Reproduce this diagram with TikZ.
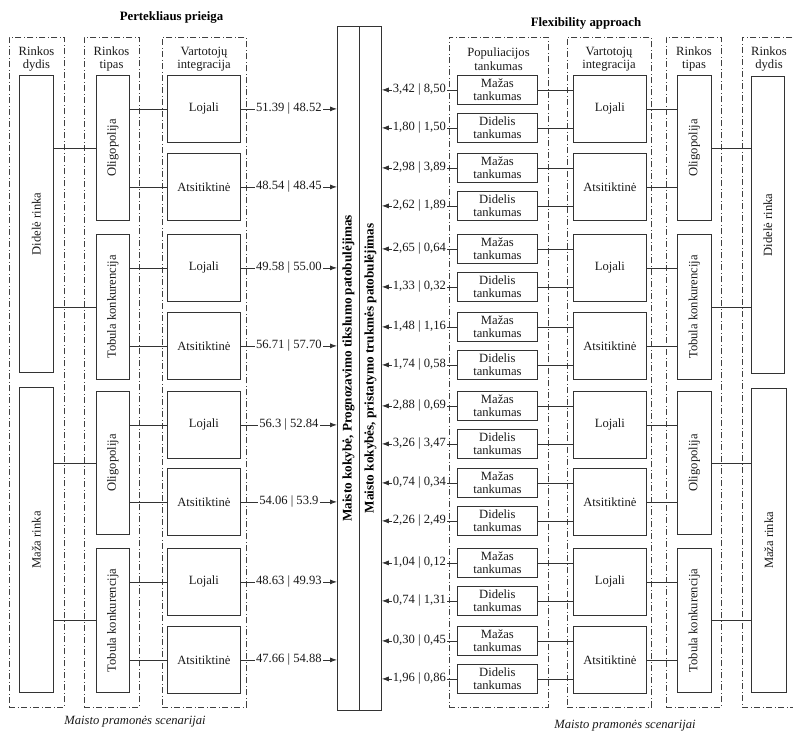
\documentclass[tikz,border=0pt]{standalone}
\usepackage{fontspec}
\setmainfont{Liberation Serif}
\usetikzlibrary{arrows.meta}
% left consumer-integration box: name, top, text, market-type node, value
\newcommand{\myintL}[5]{%
  \node[box, minimum width=73pt, minimum height=67pt] (#1) at (167,#2) {#3};
  \draw[lnk] (#1.west) -- (#1.west -| #4.east);
  \draw[arr] (#1.east) -- node[val]{#5} (#1.east -| colL.west);
}
% right consumer-integration box: name, top, text, market-type node
\newcommand{\myintR}[4]{%
  \node[box, minimum width=73pt, minimum height=67pt] (#1) at (573,#2) {#3};
  \draw[lnk] (#1.east) -- (#1.east -| #4.west);
}
% population density box: name, top, text, integration node, value
\newcommand{\mypop}[5]{%
  \node[box, minimum width=80pt, minimum height=29pt] (#1) at (457,#2) {#3};
  \draw[lnk] (#1.east) -- (#1.east -| #4.west);
  \draw[arr] (#1.west) -- node[val]{#5} (#1.west -| colR.east);
}
% market type boxes: name, top, height, text, size node
\newcommand{\mytipL}[5]{%
  \node[box, minimum width=33pt, minimum height=#3pt] (#1) at (96,#2) {};
  \node[rot] (#1t) at (#1.center) {#4};
  \draw[lnk] (#1.west) -- (#1.west -| #5.east);
}
\newcommand{\mytipR}[5]{%
  \node[box, minimum width=34pt, minimum height=#3pt] (#1) at (677,#2) {};
  \node[rot] (#1t) at (#1.center) {#4};
  \draw[lnk] (#1.east) -- (#1.east -| #5.west);
}
\begin{document}
\begin{tikzpicture}[x=1pt,y=-1pt,
  txt/.style={font=\fontsize{12.6}{13.4}\selectfont, text=black!90},
  box/.style={txt, draw=black!80, line width=0.8pt, inner sep=0pt, align=center, anchor=north west},
  grp/.style={draw=black!75, line width=0.7pt, dash pattern=on 6pt off 2.5pt on 1pt off 2.5pt, anchor=north west, inner sep=0pt},
  lnk/.style={draw=black!80, line width=0.8pt},
  arr/.style={lnk, -{Latex[length=7pt,width=5pt]}},
  val/.style={txt, fill=white, inner sep=1pt},
  hdr/.style={txt, align=center},
  ttl/.style={font=\fontsize{12.8}{13.4}\selectfont\bfseries, text=black},
  captxt/.style={font=\fontsize{12.6}{13.4}\selectfont\itshape, text=black!90},
  rot/.style={txt, rotate=90},
  crot/.style={font=\fontsize{13.2}{14}\selectfont\bfseries, text=black, rotate=90},
]
\useasboundingbox (0,0) rectangle (793,734);

% titles
\node[ttl] (tLeft) at (171.5,17) {Pertekliaus prieiga};
\node[ttl] (tRight) at (586,23) {Flexibility approach};

% groups (dash-dot)
\node[grp, minimum width=55pt, minimum height=670pt] (gL1) at (9,37) {};
\node[grp, minimum width=55pt, minimum height=670pt] (gL2) at (84,37) {};
\node[grp, minimum width=84pt, minimum height=670pt] (gL3) at (162,37) {};
\node[grp, minimum width=99pt, minimum height=670pt] (gR1) at (449,37) {};
\node[grp, minimum width=84pt, minimum height=670pt] (gR2) at (567,37) {};
\node[grp, minimum width=55pt, minimum height=670pt] (gR3) at (666,37) {};
\node[grp, minimum width=62pt, minimum height=670pt] (gR4) at (742,37) {};

% headers
\node[hdr] (hL1) at (36.5,59) {Rinkos\\dydis};
\node[hdr] (hL2) at (111.5,59) {Rinkos\\tipas};
\node[hdr] (hL3) at (204,59) {Vartotojų\\integracija};
\node[hdr] (hR1) at (498.5,59) {Populiacijos\\tankumas};
\node[hdr] (hR2) at (609,59) {Vartotojų\\integracija};
\node[hdr] (hR3) at (694,59) {Rinkos\\tipas};
\node[hdr] (hR4) at (769,59) {Rinkos\\dydis};

% central column
\node[box, minimum width=22pt, minimum height=684pt] (colL) at (337,26) {};
\node[box, minimum width=22pt, minimum height=684pt] (colR) at (359,26) {};
\node[crot] (colLt) at (colL.center) {Maisto kokybė, Prognozavimo tikslumo patobulėjimas};
\node[crot] (colRt) at (colR.center) {Maisto kokybės, pristatymo trukmės patobulėjimas};

% left market size
\node[box, minimum width=34pt, minimum height=297pt] (dL1) at (19,75) {};
\node[rot] (dL1t) at (dL1.center) {Didelė rinka};
\node[box, minimum width=34pt, minimum height=305pt] (dL2) at (19,387) {};
\node[rot] (dL2t) at (dL2.center) {Maža rinka};

% left market type
\mytipL{tL1}{75}{145}{Oligopolija}{dL1}
\mytipL{tL2}{234}{145}{Tobula konkurencija}{dL1}
\mytipL{tL3}{391}{143}{Oligopolija}{dL2}
\mytipL{tL4}{548}{144}{Tobula konkurencija}{dL2}

% left integration
\myintL{iL1}{75}{Lojali}{tL1}{51.39 | 48.52}
\myintL{iL2}{153}{Atsitiktinė}{tL1}{48.54 | 48.45}
\myintL{iL3}{234}{Lojali}{tL2}{49.58 | 55.00}
\myintL{iL4}{312}{Atsitiktinė}{tL2}{56.71 | 57.70}
\myintL{iL5}{391}{Lojali}{tL3}{56.3 | 52.84}
\myintL{iL6}{468}{Atsitiktinė}{tL3}{54.06 | 53.9}
\myintL{iL7}{548}{Lojali}{tL4}{48.63 | 49.93}
\myintL{iL8}{626}{Atsitiktinė}{tL4}{47.66 | 54.88}

% right market size
\node[box, minimum width=33pt, minimum height=297pt] (dR1) at (751,76) {};
\node[rot] (dR1t) at (dR1.center) {Didelė rinka};
\node[box, minimum width=35pt, minimum height=304pt] (dR2) at (751,388) {};
\node[rot] (dR2t) at (dR2.center) {Maža rinka};

% right market type
\mytipR{tR1}{75}{145}{Oligopolija}{dR1}
\mytipR{tR2}{234}{145}{Tobula konkurencija}{dR1}
\mytipR{tR3}{391}{143}{Oligopolija}{dR2}
\mytipR{tR4}{548}{144}{Tobula konkurencija}{dR2}

% right integration
\myintR{iR1}{75}{Lojali}{tR1}
\myintR{iR2}{153}{Atsitiktinė}{tR1}
\myintR{iR3}{234}{Lojali}{tR2}
\myintR{iR4}{312}{Atsitiktinė}{tR2}
\myintR{iR5}{391}{Lojali}{tR3}
\myintR{iR6}{468}{Atsitiktinė}{tR3}
\myintR{iR7}{548}{Lojali}{tR4}
\myintR{iR8}{626}{Atsitiktinė}{tR4}

% population density
\mypop{p1}{75}{Mažas\\tankumas}{iR1}{3,42 | 8,50}
\mypop{p2}{113}{Didelis\\tankumas}{iR1}{1,80 | 1,50}
\mypop{p3}{153}{Mažas\\tankumas}{iR2}{2,98 | 3,89}
\mypop{p4}{191}{Didelis\\tankumas}{iR2}{2,62 | 1,89}
\mypop{p5}{234}{Mažas\\tankumas}{iR3}{2,65 | 0,64}
\mypop{p6}{272}{Didelis\\tankumas}{iR3}{1,33 | 0,32}
\mypop{p7}{312}{Mažas\\tankumas}{iR4}{1,48 | 1,16}
\mypop{p8}{350}{Didelis\\tankumas}{iR4}{1,74 | 0,58}
\mypop{p9}{391}{Mažas\\tankumas}{iR5}{2,88 | 0,69}
\mypop{p10}{429}{Didelis\\tankumas}{iR5}{3,26 | 3,47}
\mypop{p11}{468}{Mažas\\tankumas}{iR6}{0,74 | 0,34}
\mypop{p12}{506}{Didelis\\tankumas}{iR6}{2,26 | 2,49}
\mypop{p13}{548}{Mažas\\tankumas}{iR7}{1,04 | 0,12}
\mypop{p14}{586}{Didelis\\tankumas}{iR7}{0,74 | 1,31}
\mypop{p15}{626}{Mažas\\tankumas}{iR8}{0,30 | 0,45}
\mypop{p16}{664}{Didelis\\tankumas}{iR8}{1,96 | 0,86}

% captions
\node[captxt] (cL) at (135,722) {Maisto pramonės scenarijai};
\node[captxt] (cR) at (625,726) {Maisto pramonės scenarijai};
\end{tikzpicture}
\end{document}
